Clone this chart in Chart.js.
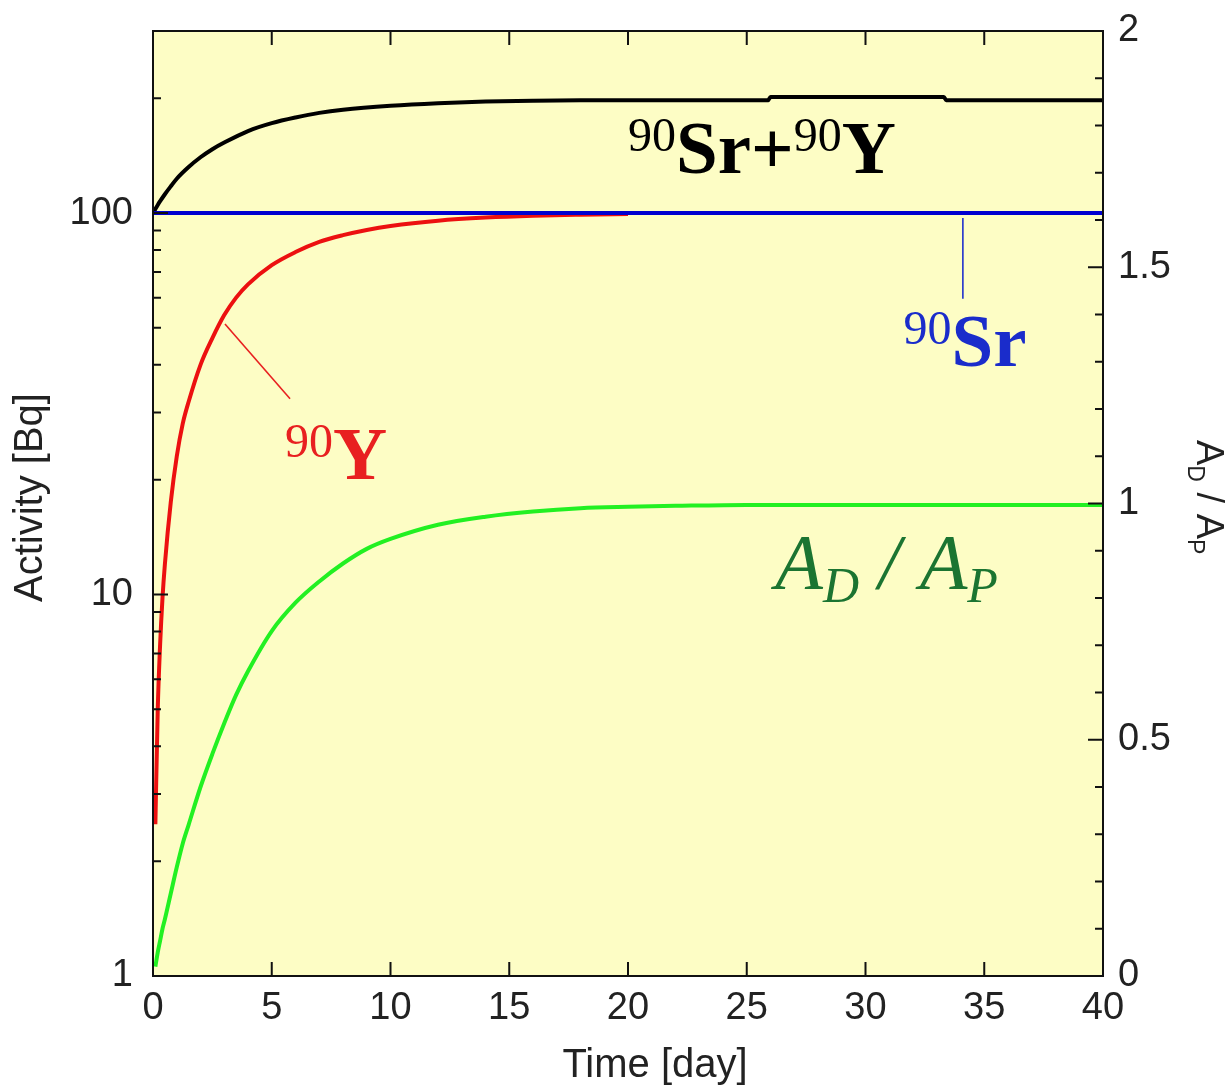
<!DOCTYPE html>
<html>
<head>
<meta charset="utf-8">
<script src="https://cdn.jsdelivr.net/npm/chart.js@4.4.1/dist/chart.umd.min.js"></script>
<style>
  html, body { margin: 0; padding: 0; background: #fff; }
  #wrap { width: 1229px; height: 1088px; }
</style>
</head>
<body>
<div id="wrap"><canvas id="chart"></canvas></div>
<script>
// values (time in days)
const yDays = [0.1, 0.2, 0.3, 0.4, 0.5, 0.75, 1, 1.25, 1.5, 2, 2.5, 3, 3.5, 4, 5, 6, 7, 8, 9, 10, 12, 14, 16, 18, 20];
const yActivity = [2.5, 5.0, 7.4, 9.8, 12, 17.5, 23, 28, 32, 40, 47, 54, 60, 65, 73, 79, 84, 87.5, 90.3, 92.5, 95.5, 97.3, 98.4, 99, 99.4];

const totalDays = [0, 0.1, 0.2, 0.3, 0.5, 0.75, 1, 1.5, 2, 2.5, 3, 4, 5, 6, 7, 8, 10, 12, 14, 16, 18, 20, 25.9, 26, 33.3, 33.4, 40];
const totalActivity = [100, 102.5, 105, 107.4, 112, 117.5, 123, 132, 140, 147, 153, 164, 172, 178, 183, 186.5, 191, 194, 196, 197, 197.5, 197.5, 197.5, 201.3, 201.3, 197.6, 197.6];

const srDays = [0, 40];
const srActivity = [100, 100];

const ratioDays = [0.1, 0.2, 0.3, 0.4, 0.5, 0.75, 1, 1.25, 1.5, 2, 2.5, 3, 3.5, 4, 5, 6, 7, 8, 9, 10, 12, 14, 16, 18, 20, 22, 25, 30, 40];
const ratio = [0.02, 0.05, 0.075, 0.1, 0.12, 0.175, 0.23, 0.28, 0.32, 0.4, 0.47, 0.535, 0.595, 0.645, 0.73, 0.79, 0.835, 0.873, 0.904, 0.925, 0.955, 0.972, 0.983, 0.99, 0.993, 0.995, 0.997, 0.997, 0.997];

const timeTicks = [0, 5, 10, 15, 20, 25, 30, 35, 40];
const activityTicks = [1, 10, 100];
const activityMinor = [2, 3, 4, 5, 6, 7, 8, 9, 20, 30, 40, 50, 60, 70, 80, 90, 200];
const ratioTicks = [0, 0.5, 1, 1.5, 2];
const ratioMinor = [0.1, 0.2, 0.3, 0.4, 0.6, 0.7, 0.8, 0.9, 1.1, 1.2, 1.3, 1.4, 1.6, 1.7, 1.8, 1.9];

const pts = (xs, ys) => xs.map((x, i) => ({ x: x, y: ys[i] }));

const SANS = '"Liberation Sans", Arial, Helvetica, sans-serif';
const SERIF = '"Liberation Serif", "Times New Roman", serif';

function drawRuns(ctx, x, y, runs) {
  runs.forEach(r => {
    ctx.font = r.font;
    ctx.fillStyle = r.color;
    ctx.fillText(r.text, x, y + (r.dy || 0));
    x += ctx.measureText(r.text).width;
  });
}

function isotope(mass, symbol, color) {
  return [
    { text: mass, font: '48px ' + SERIF, color: color, dy: -22 },
    { text: symbol, font: 'bold 75px ' + SERIF, color: color }
  ];
}

function noPad(s) {
  s.paddingTop = 0; s.paddingBottom = 0; s.paddingLeft = 0; s.paddingRight = 0;
}

const decor = {
  id: 'decor',
  beforeDatasetsDraw(chart) {
    const { ctx, chartArea: a } = chart;
    ctx.save();
    ctx.fillStyle = '#fdfdc5';
    ctx.fillRect(a.left, a.top, a.width, a.height);
    ctx.restore();
  },
  afterDatasetsDraw(chart) {
    const { ctx, chartArea: a } = chart;
    const sx = chart.scales.x, sy = chart.scales.y, sr = chart.scales.y2;
    ctx.save();

    // inward ticks
    ctx.strokeStyle = '#111';
    ctx.lineWidth = 2;
    ctx.beginPath();
    timeTicks.forEach(v => {
      const px = sx.getPixelForValue(v);
      ctx.moveTo(px, a.bottom); ctx.lineTo(px, a.bottom - 14);
      ctx.moveTo(px, a.top); ctx.lineTo(px, a.top + 14);
    });
    activityTicks.forEach(v => {
      const py = sy.getPixelForValue(v);
      ctx.moveTo(a.left, py); ctx.lineTo(a.left + 15, py);
    });
    activityMinor.forEach(v => {
      const py = sy.getPixelForValue(v);
      ctx.moveTo(a.left, py); ctx.lineTo(a.left + 8, py);
    });
    ratioTicks.forEach(v => {
      const py = sr.getPixelForValue(v);
      ctx.moveTo(a.right, py); ctx.lineTo(a.right - 15, py);
    });
    ratioMinor.forEach(v => {
      const py = sr.getPixelForValue(v);
      ctx.moveTo(a.right, py); ctx.lineTo(a.right - 8, py);
    });
    ctx.stroke();
    ctx.strokeRect(a.left, a.top, a.width, a.height);

    // pointer lines
    ctx.lineWidth = 1.6;
    ctx.strokeStyle = '#2030cc';
    ctx.beginPath();
    ctx.moveTo(sx.getPixelForValue(34.1), sy.getPixelForValue(97));
    ctx.lineTo(sx.getPixelForValue(34.1), sy.getPixelForValue(59.6));
    ctx.stroke();
    ctx.strokeStyle = '#e82020';
    ctx.beginPath();
    ctx.moveTo(sx.getPixelForValue(3.03), sy.getPixelForValue(51.2));
    ctx.lineTo(sx.getPixelForValue(5.77), sy.getPixelForValue(32.6));
    ctx.stroke();

    // curve labels
    ctx.textAlign = 'left';
    ctx.textBaseline = 'alphabetic';
    drawRuns(ctx, sx.getPixelForValue(20.0), sy.getPixelForValue(127), [
      ...isotope('90', 'Sr+', '#000'),
      ...isotope('90', 'Y', '#000')
    ]);
    drawRuns(ctx, sx.getPixelForValue(31.6), sy.getPixelForValue(39.8), isotope('90', 'Sr', '#1a2ccb'));
    drawRuns(ctx, sx.getPixelForValue(5.56), sy.getPixelForValue(20.1), isotope('90', 'Y', '#e82020'));
    const green = '#1b7431';
    drawRuns(ctx, sx.getPixelForValue(26.2), sr.getPixelForValue(0.821), [
      { text: 'A', font: 'italic 78px ' + SERIF, color: green },
      { text: 'D', font: 'italic 50px ' + SERIF, color: green, dy: 14 },
      { text: ' / ', font: 'italic 78px ' + SERIF, color: green },
      { text: 'A', font: 'italic 78px ' + SERIF, color: green },
      { text: 'P', font: 'italic 50px ' + SERIF, color: green, dy: 14 }
    ]);

    // axis titles
    ctx.fillStyle = '#222';
    ctx.font = '40px ' + SANS;
    ctx.textAlign = 'center';
    ctx.fillText('Time [day]', (a.left + a.right) / 2 + 27, a.bottom + 101);

    ctx.save();
    ctx.translate(42, (a.top + a.bottom) / 2 - 6);
    ctx.rotate(-Math.PI / 2);
    ctx.fillText('Activity [Bq]', 0, 0);
    ctx.restore();

    ctx.save();
    ctx.translate(a.right + 94, a.top + 409);
    ctx.rotate(Math.PI / 2);
    ctx.textAlign = 'left';
    drawRuns(ctx, 0, 0, [
      { text: 'A', font: '38px ' + SANS, color: '#222' },
      { text: 'D', font: '23px ' + SANS, color: '#222', dy: 9 },
      { text: ' / ', font: '38px ' + SANS, color: '#222' },
      { text: 'A', font: '38px ' + SANS, color: '#222' },
      { text: 'P', font: '23px ' + SANS, color: '#222', dy: 9 }
    ]);
    ctx.restore();

    ctx.restore();
  }
};

const tickFont = { family: SANS, size: 38 };

new Chart(document.getElementById('chart'), {
  type: 'line',
  data: {
    datasets: [
      { data: pts(srDays, srActivity), borderColor: '#0000d0', borderWidth: 4, yAxisID: 'y', order: 0 },
      { data: pts(totalDays, totalActivity), borderColor: '#000', borderWidth: 4, yAxisID: 'y', order: 1 },
      { data: pts(yDays, yActivity), borderColor: '#ec1010', borderWidth: 4, yAxisID: 'y', order: 2 },
      { data: pts(ratioDays, ratio), borderColor: '#22f022', borderWidth: 4, yAxisID: 'y2', order: 3 }
    ]
  },
  options: {
    responsive: true,
    maintainAspectRatio: false,
    animation: false,
    elements: { point: { radius: 0 }, line: { cubicInterpolationMode: 'monotone' } },
    layout: { padding: { top: 31, left: 0, right: 0, bottom: 0 } },
    plugins: { legend: { display: false }, tooltip: { enabled: false } },
    scales: {
      x: {
        type: 'linear', min: 0, max: 40,
        grid: { display: false, drawTicks: false }, border: { display: false },
        ticks: { stepSize: 5, font: tickFont, color: '#222', padding: 10, maxRotation: 0 },
        afterFit: s => { s.height = 112; noPad(s); }
      },
      y: {
        type: 'logarithmic', position: 'left', min: 1, max: 300,
        grid: { display: false, drawTicks: false }, border: { display: false },
        ticks: { font: tickFont, color: '#222', padding: 20, callback: v => String(v) },
        afterBuildTicks: s => { s.ticks = activityTicks.map(v => ({ value: v })); },
        afterFit: s => { s.width = 153; noPad(s); }
      },
      y2: {
        type: 'linear', position: 'right', min: 0, max: 2,
        grid: { display: false, drawTicks: false }, border: { display: false },
        ticks: { font: tickFont, color: '#222', padding: 15, callback: v => String(v) },
        afterBuildTicks: s => { s.ticks = ratioTicks.map(v => ({ value: v })); },
        afterFit: s => { s.width = 126; noPad(s); }
      }
    }
  },
  plugins: [decor]
});
</script>
</body>
</html>
